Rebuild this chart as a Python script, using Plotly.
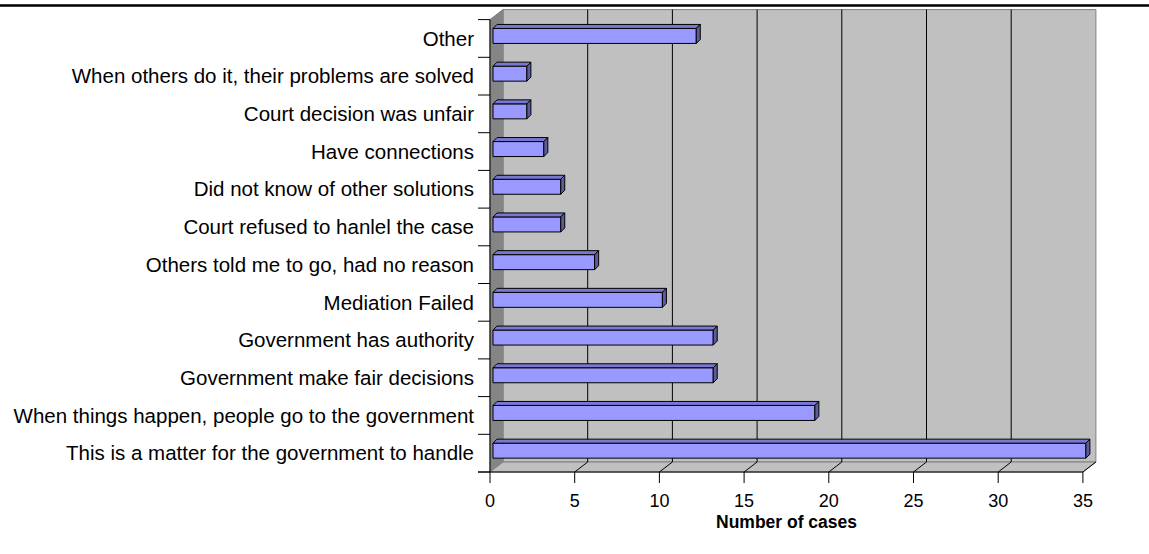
import plotly.graph_objects as go

# Survey answers, listed bottom to top
categories = [
    "This is a matter for the government to handle",
    "When things happen, people go to the government",
    "Government make fair decisions",
    "Government has authority",
    "Mediation Failed",
    "Others told me to go, had no reason",
    "Court refused to hanlel the case",
    "Did not know of other solutions",
    "Have connections",
    "Court decision was unfair",
    "When others do it, their problems are solved",
    "Other",
]
cases = [35, 19, 13, 13, 10, 6, 4, 4, 3, 2, 2, 12]
x_ticks = [0, 5, 10, 15, 20, 25, 30, 35]
x_title = "Number of cases"

# ---- geometry (pixels) ----
W, H = 1149, 554
X0_PX, Y0_PX = 490, 472          # front-floor origin
PXU = 16.94                      # pixels per case
PYU = 37.7                       # pixels per category band
PLOT_L, PLOT_R, PLOT_T, PLOT_B = 478, 1100, 8, 484
XMAX = x_ticks[-1]
NCAT = len(categories)

x_range = [(PLOT_L - X0_PX) / PXU, (PLOT_R - X0_PX) / PXU]
y_range = [(Y0_PX - PLOT_B) / PYU, (Y0_PX - PLOT_T) / PYU]

def px_x(p):
    return p / PXU

def px_y(p):
    return p / PYU

DX, DY = px_x(13), px_y(10)      # wall depth
BX, BY = px_x(4), px_y(4)        # bar depth
BAR_SHIFT_X = px_x(3)
BAR_SHIFT_Y = px_y(2.5)
BAR_H = px_y(15)

FRONT = "#9999FF"
TOP = "#7878D0"
SIDE = "#5C5C9A"
WALL = "#C0C0C0"
DARKWALL = "#858585"
EDGE = "#808080"

shapes = []

def line(x0, y0, x1, y1, color="black", width=1):
    shapes.append(dict(type="line", xref="x", yref="y", x0=x0, y0=y0, x1=x1, y1=y1,
                       line=dict(color=color, width=width), layer="below"))

def poly(pts, fill, edge):
    d = "M " + " L ".join(f"{a},{b}" for a, b in pts) + " Z"
    shapes.append(dict(type="path", xref="x", yref="y", path=d, fillcolor=fill,
                       line=dict(color=edge, width=1), layer="below"))

# back wall, left wall, floor
poly([(DX, DY), (XMAX + DX, DY), (XMAX + DX, NCAT + DY), (DX, NCAT + DY)], WALL, EDGE)
poly([(0, 0), (0, NCAT), (DX, NCAT + DY), (DX, DY)], DARKWALL, EDGE)
poly([(0, 0), (XMAX, 0), (XMAX + DX, DY), (DX, DY)], WALL, EDGE)

# gridlines on the back wall and floor
for v in x_ticks[1:]:
    if v < XMAX:
        line(v + DX, DY, v + DX, NCAT + DY)
    line(v, 0, v + DX, DY)

# axes edges and tick marks
line(px_x(-12), 0, XMAX, 0)
line(0, 0, 0, NCAT)
for v in x_ticks:
    line(v, 0, v, -px_y(11))
for k in range(NCAT + 1):
    line(px_x(-12), k, 0, k)

# rule across the top of the page
shapes.append(dict(type="line", xref="paper", yref="paper", x0=-1, x1=2,
                   y0=(PLOT_B - 5.5) / (PLOT_B - PLOT_T), y1=(PLOT_B - 5.5) / (PLOT_B - PLOT_T),
                   line=dict(color="black", width=2.5)))

bar_y = [i + 0.5 + BAR_SHIFT_Y for i in range(NCAT)]

fig = go.Figure()
fig.add_trace(go.Bar(
    orientation="h", x=cases, y=bar_y, base=BAR_SHIFT_X, width=BAR_H,
    marker=dict(color=FRONT, line=dict(color="black", width=1)),
    hoverinfo="skip",
))

# top and right faces of each bar
tx, ty, sx, sy = [], [], [], []
for v, yc in zip(cases, bar_y):
    x_l, x_r = BAR_SHIFT_X, BAR_SHIFT_X + v
    y_t, y_b = yc + BAR_H / 2, yc - BAR_H / 2
    tx += [x_l, x_r, x_r + BX, x_l + BX, x_l, None]
    ty += [y_t, y_t, y_t + BY, y_t + BY, y_t, None]
    sx += [x_r, x_r, x_r + BX, x_r + BX, x_r, None]
    sy += [y_b, y_t, y_t + BY, y_b + BY, y_b, None]

fig.add_trace(go.Scatter(x=tx, y=ty, mode="lines", fill="toself", fillcolor=TOP,
                         line=dict(color="black", width=1), hoverinfo="skip"))
fig.add_trace(go.Scatter(x=sx, y=sy, mode="lines", fill="toself", fillcolor=SIDE,
                         line=dict(color="black", width=1), hoverinfo="skip"))

FONT = "Liberation Sans, Arial, sans-serif"

fig.update_layout(
    width=W, height=H,
    margin=dict(l=PLOT_L, r=W - PLOT_R, t=PLOT_T, b=H - PLOT_B),
    paper_bgcolor="white", plot_bgcolor="rgba(0,0,0,0)",
    showlegend=False,
    shapes=shapes,
    font=dict(family=FONT, size=18, color="black"),
    xaxis=dict(range=x_range, tickvals=x_ticks, ticks="", showgrid=False, zeroline=False,
               showline=False, ticklabelstandoff=4, tickfont=dict(size=18)),
    yaxis=dict(range=y_range, tickvals=[i + 0.5 for i in range(NCAT)], ticktext=categories,
               ticks="", showgrid=False, zeroline=False, showline=False,
               ticklabelstandoff=3, tickfont=dict(size=20.5)),
    annotations=[dict(text=f"<b>{x_title}</b>", xref="x", yref="paper", x=XMAX / 2,
                      y=(PLOT_B - 522) / (PLOT_B - PLOT_T), yanchor="middle",
                      showarrow=False, font=dict(size=17.5, family=FONT))],
)

fig.write_html("out.html")
